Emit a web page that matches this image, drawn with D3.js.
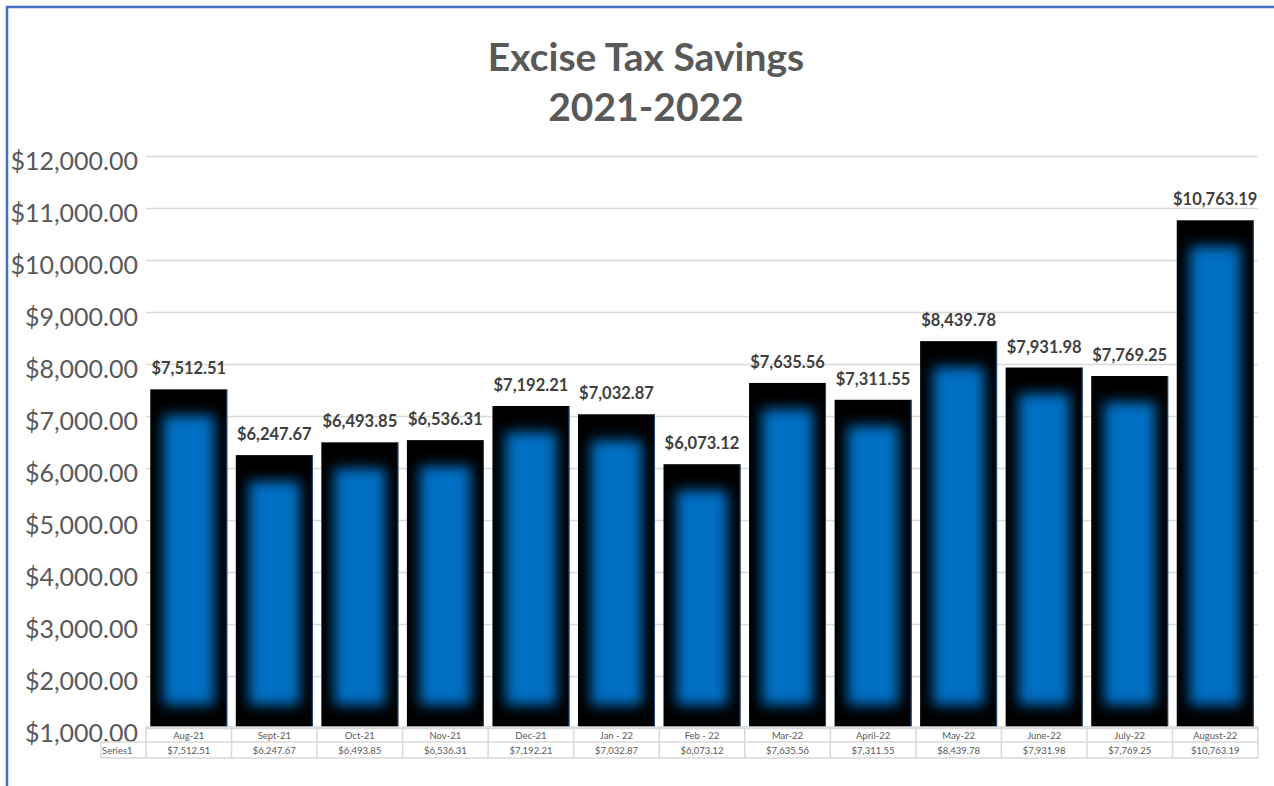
<!DOCTYPE html>
<html><head><meta charset="utf-8">
<script src="https://cdn.jsdelivr.net/npm/d3@7/dist/d3.min.js"></script>
<style>body{margin:0;background:#fff;} svg{display:block;}</style>
</head><body>
<svg id="c" width="1274" height="786"></svg>
<script>
const categories = ["Aug-21","Sept-21","Oct-21","Nov-21","Dec-21","Jan - 22","Feb - 22","Mar-22","April-22","May-22","June-22","July-22","August-22"];
const values = [7512.51,6247.67,6493.85,6536.31,7192.21,7032.87,6073.12,7635.56,7311.55,8439.78,7931.98,7769.25,10763.19];
const yTicks = [1000,2000,3000,4000,5000,6000,7000,8000,9000,10000,11000,12000];
const seriesName = "Series1";
const titleLines = ["Excise Tax Savings","2021-2022"];

const svg = d3.select("#c");
const font = "Lato, 'Open Sans', sans-serif";
const fmt = v => "$" + d3.format(",.2f")(v);

const x = d3.scaleBand().domain(categories).range([146,1258]).paddingInner(0.1).paddingOuter(0.05);
const y = d3.scaleLinear().domain([1000,12000]).range([728,156]);

// border
svg.append("path").attr("d","M7,786 L7,7 L1274,7").attr("fill","none").attr("stroke","#4472C4").attr("stroke-width",2.5);

// title
svg.append("g").selectAll("text").data(titleLines).join("text")
  .attr("x",646).attr("y",(d,i)=>71+i*50).attr("text-anchor","middle")
  .attr("font-family",font).attr("font-weight","bold").attr("font-size",39).attr("fill","#595959").text(d=>d);

// gridlines + y axis
const yAxis = d3.axisLeft(y).tickValues(yTicks).tickFormat(fmt).tickSize(-(1258-146)).tickPadding(8);
const ga = svg.append("g").attr("transform","translate(146,0)").call(yAxis);
ga.select(".domain").remove();
ga.selectAll(".tick line").attr("stroke","#d9d9d9").attr("stroke-width",1.5);
ga.selectAll(".tick text").attr("font-family",font).attr("font-size",25).attr("fill","#595959").attr("dy","0.52em");

// bars
const defs = svg.append("defs");
defs.append("filter").attr("id","blur").attr("x","-50%").attr("y","-50%").attr("width","200%").attr("height","200%")
  .append("feGaussianBlur").attr("stdDeviation",6.5);

const bars = svg.append("g").selectAll("g").data(categories).join("g");
bars.each(function(c,i){
  const g = d3.select(this);
  const bx = x(c), bw = x.bandwidth(), top = y(values[i]), bot = 727;
  defs.append("clipPath").attr("id","clip"+i).append("rect").attr("x",bx).attr("y",top).attr("width",bw).attr("height",bot-top);
  g.append("rect").attr("x",bx).attr("y",top).attr("width",bw).attr("height",bot-top).attr("fill","#000");
  g.append("g").attr("clip-path","url(#clip"+i+")")
    .append("rect").attr("x",bx+13).attr("y",top+26).attr("width",bw-26).attr("height",Math.max(0,bot-top-48))
    .attr("fill","#0070C4").attr("filter","url(#blur)");
  g.append("line").attr("x1",bx+bw-0.5).attr("x2",bx+bw-0.5).attr("y1",top).attr("y2",bot).attr("stroke","#1d4f80").attr("stroke-width",1);
});

// data labels
svg.append("g").selectAll("text").data(categories).join("text")
  .attr("x",c=>x(c)+x.bandwidth()/2).attr("y",(c,i)=>y(values[i])-15).attr("text-anchor","middle")
  .attr("font-family",font).attr("font-weight","bold").attr("font-size",16.5).attr("fill","#404040")
  .text((c,i)=>fmt(values[i]));

// data table
const step = x.step();
const colX = categories.map(c=>x(c)-(step-x.bandwidth())/2);
const tbl = svg.append("g");
const r0 = 727, r1 = 742, r2 = 758;
const tx0 = 101, tx1 = 146, tx2 = 1258;
const stroke = "#d9d9d9";
tbl.append("line").attr("x1",tx1).attr("x2",tx2).attr("y1",r0).attr("y2",r0).attr("stroke",stroke).attr("stroke-width",1.5);
tbl.append("line").attr("x1",tx0).attr("x2",tx2).attr("y1",r1).attr("y2",r1).attr("stroke",stroke).attr("stroke-width",1.5);
tbl.append("line").attr("x1",tx0).attr("x2",tx2).attr("y1",r2).attr("y2",r2).attr("stroke",stroke).attr("stroke-width",1.5);
tbl.append("line").attr("x1",tx0).attr("x2",tx0).attr("y1",r1).attr("y2",r2).attr("stroke",stroke).attr("stroke-width",1.5);
tbl.selectAll(".vl").data(colX.concat([tx2])).join("line").attr("class","vl")
  .attr("x1",d=>d).attr("x2",d=>d).attr("y1",r0).attr("y2",r2).attr("stroke",stroke).attr("stroke-width",1.5);
tbl.selectAll(".cat").data(categories).join("text").attr("class","cat")
  .attr("x",c=>x(c)+x.bandwidth()/2).attr("y",738.5).attr("text-anchor","middle")
  .attr("font-family",font).attr("font-size",9.5).attr("fill","#595959").text(c=>c);
tbl.selectAll(".val").data(values).join("text").attr("class","val")
  .attr("x",(v,i)=>x(categories[i])+x.bandwidth()/2).attr("y",754).attr("text-anchor","middle")
  .attr("font-family",font).attr("font-size",9.5).attr("fill","#595959").text(v=>fmt(v));
tbl.append("text").attr("x",102).attr("y",754).attr("font-family",font).attr("font-size",9.5).attr("fill","#595959").text(seriesName);
</script>
</body></html>
